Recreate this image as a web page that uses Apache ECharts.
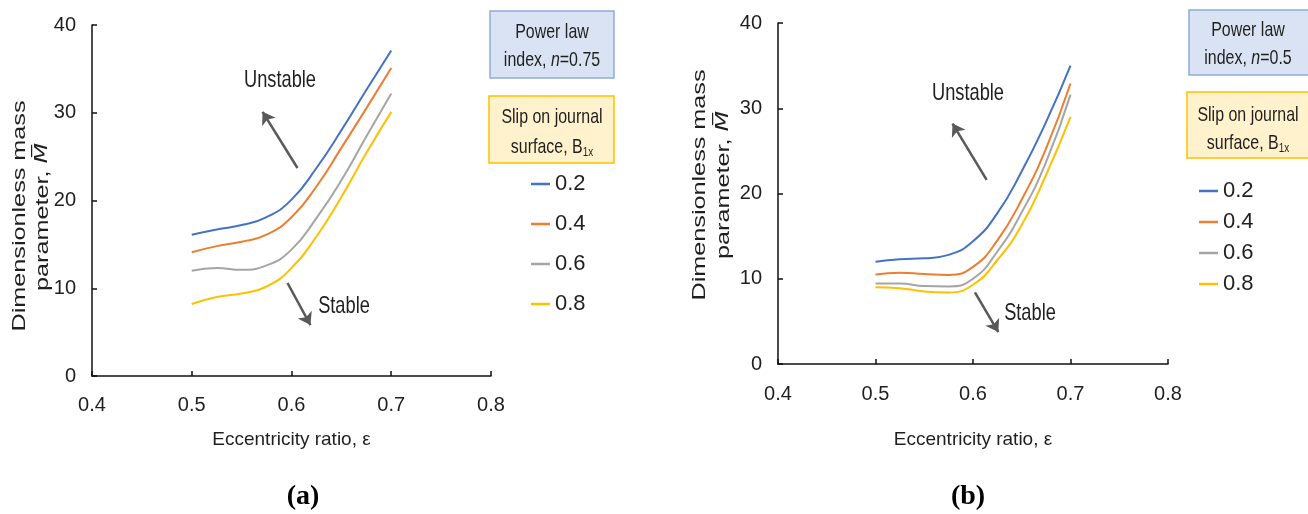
<!DOCTYPE html>
<html>
<head>
<meta charset="utf-8">
<script src="https://cdn.jsdelivr.net/npm/echarts@6/dist/echarts.min.js"></script>
<style>
html,body{margin:0;padding:0;background:#fff;}
#chart{width:1308px;height:514px;}
</style>
</head>
<body>
<div id="chart"></div>
<script>
// eccentricity ratio
var eps = [0.5, 0.525, 0.55, 0.575, 0.6, 0.625, 0.65, 0.675, 0.7];
var slipNames = ['0.2', '0.4', '0.6', '0.8'];
var colors = ['#4472c4', '#ed7d31', '#a5a5a5', '#ffc000'];

// (a) power law index n = 0.75
var a_02 = [16.1, 16.7, 17.2, 18.1, 20.1, 23.7, 28.0, 32.6, 37.1];
var a_04 = [14.1, 14.8, 15.3, 16.1, 18.1, 21.6, 26.0, 30.5, 35.1];
var a_06 = [12.0, 12.3, 12.1, 12.6, 14.4, 18.0, 22.3, 27.3, 32.2];
var a_08 = [8.2, 9.0, 9.4, 10.2, 12.3, 15.9, 20.4, 25.4, 30.1];

// (b) power law index n = 0.5
var b_02 = [12.0, 12.3, 12.4, 12.8, 14.4, 17.7, 22.6, 28.4, 35.0];
var b_04 = [10.5, 10.7, 10.55, 10.45, 11.4, 14.5, 19.3, 25.3, 32.9];
var b_06 = [9.45, 9.45, 9.15, 9.1, 10.0, 13.2, 17.8, 23.7, 31.6];
var b_08 = [9.0, 8.9, 8.5, 8.4, 9.3, 12.2, 16.3, 22.2, 29.0];

var sans = "'Liberation Sans', Arial, sans-serif";
var txt = '#1f1f1f';

function pairs(ys) {
    var out = [];
    for (var i = 0; i < eps.length; i++) out.push([eps[i], ys[i]]);
    return out;
}

function xAx(idx) {
    return {
        type: 'value', gridIndex: idx, min: 0.4, max: 0.8, interval: 0.1,
        name: 'Eccentricity ratio, \u03b5', nameLocation: 'middle',
        nameGap: idx == 0 ? 54 : 66,
        nameTextStyle: {fontFamily: sans, fontSize: 19, color: txt},
        axisLine: {lineStyle: {color: '#111', width: 1.5}},
        axisTick: {inside: true, length: 5, lineStyle: {color: '#111', width: 1.5}},
        axisLabel: {fontFamily: sans, fontSize: 20, color: txt, margin: idx == 0 ? 19 : 20,
            formatter: function (v) { return v.toFixed(1); }},
        splitLine: {show: false}
    };
}
function yAx(idx) {
    return {
        type: 'value', gridIndex: idx, min: 0, max: 40, interval: 10,
        axisLine: {show: true, lineStyle: {color: '#111', width: 1.5}},
        axisTick: {show: true, inside: true, length: 5, lineStyle: {color: '#111', width: 1.5}},
        axisLabel: {fontFamily: sans, fontSize: 20, color: txt, margin: 16},
        splitLine: {show: false}
    };
}

function arrows(list) {
    return {
        silent: true, symbol: ['none', 'arrow'], symbolSize: 12,
        lineStyle: {color: '#595959', width: 2.5, type: 'solid'},
        itemStyle: {color: '#595959'},
        label: {show: false}, emphasis: {disabled: true},
        data: list.map(function (a) { return [{coord: a[0]}, {coord: a[1]}]; })
    };
}

var seriesA = [a_02, a_04, a_06, a_08];
var seriesB = [b_02, b_04, b_06, b_08];
var series = [];
[seriesA, seriesB].forEach(function (set, g) {
    set.forEach(function (ys, i) {
        var s = {
            name: slipNames[i], type: 'line', xAxisIndex: g, yAxisIndex: g,
            data: pairs(ys), smooth: 0.5, showSymbol: false,
            lineStyle: {width: 2, color: colors[i]}, itemStyle: {color: colors[i]}
        };
        if (i == 0) {
            // stable / unstable arrows
            s.markLine = g == 0
                ? arrows([[[0.606, 23.7], [0.571, 30.1]], [[0.596, 10.6], [0.619, 5.8]]])
                : arrows([[[0.614, 21.6], [0.579, 28.2]], [[0.602, 8.4], [0.626, 3.75]]]);
        }
        series.push(s);
    });
});

function legendAt(left, top, gap) {
    return {
        orient: 'vertical', left: left, top: top, itemGap: gap, padding: 0,
        icon: 'rect', itemWidth: 19, itemHeight: 2.5,
        textStyle: {fontFamily: sans, fontSize: 22, color: txt, lineHeight: 22},
        data: slipNames, selectedMode: false
    };
}

function box(x, y, w, h, fill, stroke) {
    return {type: 'rect', shape: {x: x, y: y, width: w, height: h}, style: {fill: fill, stroke: stroke, lineWidth: 1.5}, silent: true};
}
var rich = {
    t: {fontFamily: sans, fontSize: 21, color: txt},
    it: {fontStyle: 'italic', fontFamily: sans, fontSize: 21, color: txt},
    sub: {fontFamily: sans, fontSize: 13, color: txt, padding: [10, 0, 0, 0]},
    m: {fontStyle: 'italic', fontFamily: "'DejaVu Sans', sans-serif", fontSize: 17, color: txt}
};
// condensed text: the original figure is squeezed horizontally
function label(x, y, text, size, sx) {
    return {
        type: 'text', x: x, y: y, scaleX: sx || 0.76, silent: true,
        style: {text: text, x: 0, y: 0, fill: txt, font: size + 'px ' + sans, align: 'center', verticalAlign: 'middle', rich: rich}
    };
}
function yName(x, y, text) {
    return {
        type: 'text', x: x, y: y, rotation: Math.PI / 2, scaleX: 1.4, silent: true,
        style: {text: text, font: '18px ' + sans, fill: txt, align: 'center', verticalAlign: 'middle', rich: rich}
    };
}
function panelTag(x, y, text) {
    return {
        type: 'text', x: x, y: y, silent: true,
        style: {text: text, font: "bold 28px 'Liberation Serif', 'Times New Roman', serif", fill: '#000', align: 'center', verticalAlign: 'middle'}
    };
}

var graphics = [
    box(490, 11, 124, 67, '#dae3f3', '#8faadc'),
    box(489, 96, 125, 67, '#fff2cc', '#ffc000'),
    box(1189, 10, 125, 65, '#dae3f3', '#8faadc'),
    box(1187, 92, 127, 66, '#fff2cc', '#ffc000'),
    label(552, 32, 'Power law', 21),
    label(552, 60, '{t|index, }{it|n}{t|=0.75}', 21),
    label(552, 117, 'Slip on journal', 21),
    label(552, 147, '{t|surface, B}{sub|1x}', 21),
    label(1248, 30, 'Power law', 21),
    label(1248, 58, '{t|index, }{it|n}{t|=0.5}', 21),
    label(1248, 115, 'Slip on journal', 21),
    label(1248, 143, '{t|surface, B}{sub|1x}', 21),
    label(280, 80, 'Unstable', 24),
    label(344, 306, 'Stable', 24),
    label(968, 93, 'Unstable', 24),
    label(1030, 313, 'Stable', 24),
    yName(20, 216, 'Dimensionless mass'),
    yName(43, 217, 'parameter, {m|M\u0305}'),
    yName(700, 185, 'Dimensionless mass'),
    yName(724, 185, 'parameter, {m|M\u0305}'),
    panelTag(303, 497, '(a)'),
    panelTag(968, 497, '(b)')
];

var chart = echarts.init(document.getElementById('chart'));
chart.setOption({
    backgroundColor: '#fff',
    animation: false,
    grid: [
        {left: 92, top: 25, width: 399, height: 351},
        {left: 778, top: 23, width: 390, height: 341}
    ],
    xAxis: [xAx(0), xAx(1)],
    yAxis: [yAx(0), yAx(1)],
    legend: [legendAt(531, 173, 18), legendAt(1199, 180, 9)],
    series: series,
    graphic: graphics
});
</script>
</body>
</html>
